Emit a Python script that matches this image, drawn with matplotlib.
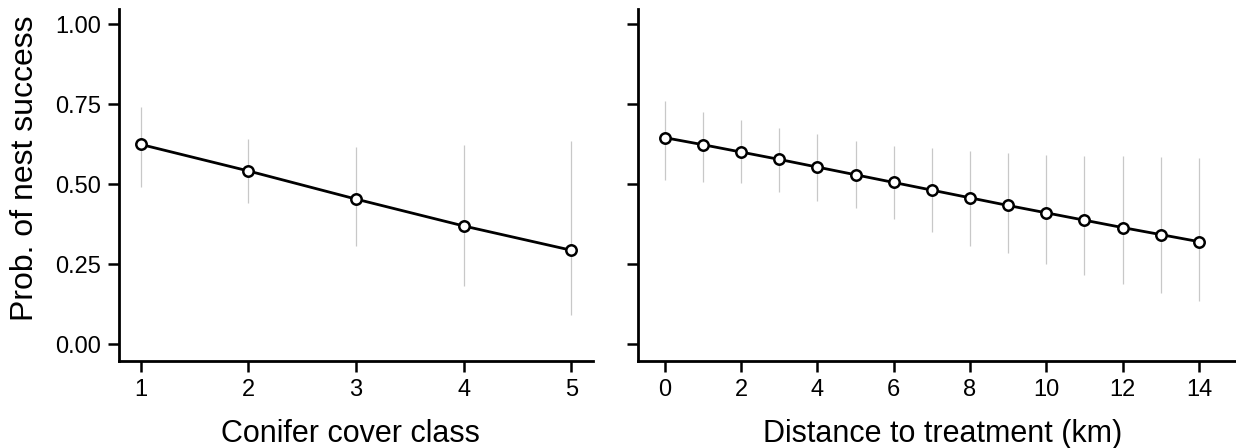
import numpy as np
import matplotlib
matplotlib.use("Agg")
import matplotlib.pyplot as plt

plt.rcParams['font.family'] = ['Liberation Sans', 'DejaVu Sans']

# conifer cover class panel
conifer = np.array([1, 2, 3, 4, 5])
conifer_p = np.array([0.624, 0.541, 0.453, 0.369, 0.293])
conifer_lo = np.array([0.49, 0.44, 0.305, 0.18, 0.09])
conifer_hi = np.array([0.74, 0.64, 0.615, 0.621, 0.636])

# distance to treatment panel
dist = np.arange(0, 15)
dist_p = np.array([0.645, 0.623, 0.600, 0.577, 0.553, 0.529, 0.505, 0.481,
                   0.457, 0.433, 0.410, 0.387, 0.364, 0.342, 0.320])
dist_lo = np.array([0.514, 0.506, 0.502, 0.474, 0.446, 0.425, 0.391, 0.349,
                    0.305, 0.284, 0.251, 0.216, 0.188, 0.159, 0.133])
dist_hi = np.array([0.76, 0.725, 0.70, 0.676, 0.655, 0.634, 0.618, 0.613,
                    0.603, 0.596, 0.592, 0.589, 0.587, 0.585, 0.582])

yticks = [0.0, 0.25, 0.5, 0.75, 1.0]
yticklabels = ["0.00", "0.25", "0.50", "0.75", "1.00"]

fig = plt.figure(figsize=(12.36, 4.48), dpi=100)
ax1 = fig.add_axes([119/1236, 87/448, 474/1236, 352/448])
ax2 = fig.add_axes([638/1236, 87/448, 598/1236, 352/448])


def draw(ax, x, p, lo, hi):
    ax.vlines(x, lo, hi, color="#c8c8c8", lw=0.9, zorder=1)
    ax.plot(x, p, "-", color="black", lw=2.0, zorder=2)
    ax.plot(x, p, "o", mfc="white", mec="black", mew=1.8, ms=7.5, zorder=3)
    ax.set_ylim(-0.053, 1.047)
    ax.set_yticks(yticks)
    for s in ["top", "right"]:
        ax.spines[s].set_visible(False)
    for s in ["left", "bottom"]:
        ax.spines[s].set_linewidth(2.0)
    ax.tick_params(length=8, width=1.8, labelsize=17, pad=5)


draw(ax1, conifer, conifer_p, conifer_lo, conifer_hi)
ax1.set_xlim(0.8, 5.2)
ax1.set_xticks(conifer)
ax1.set_yticklabels(yticklabels)

draw(ax2, dist, dist_p, dist_lo, dist_hi)
ax2.set_xlim(-0.7, 14.97)
ax2.set_xticks(np.arange(0, 15, 2))
ax2.set_yticklabels([])

fig.text(350/1236, 6/448, "Conifer cover class", fontsize=22, ha="center", va="baseline")
fig.text(943/1236, 6/448, "Distance to treatment (km)", fontsize=22, ha="center", va="baseline")
fig.text(25/1236, 1 - 168/448, "Prob. of nest success", fontsize=23, rotation=90,
         ha="center", va="center")

fig.savefig("out.png", dpi=100)
